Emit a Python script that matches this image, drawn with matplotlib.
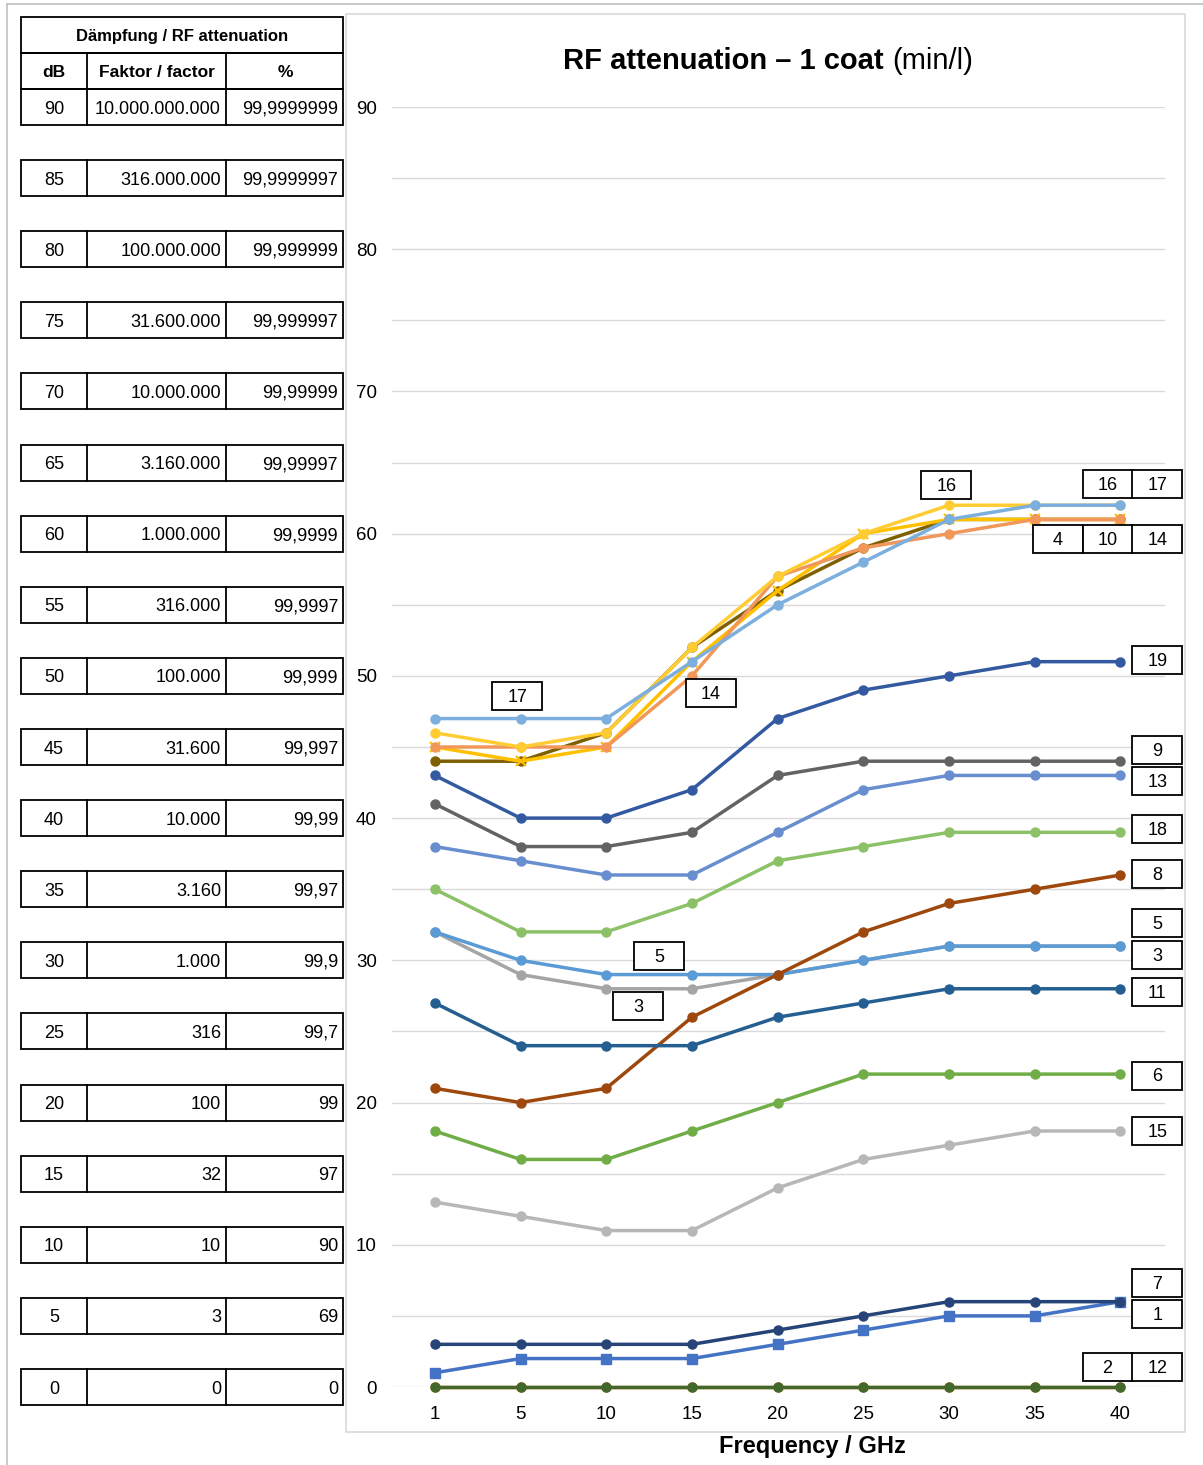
import numpy as np
import matplotlib
matplotlib.use("Agg")
import matplotlib.pyplot as plt
from matplotlib.patches import Rectangle

plt.rcParams['font.family'] = ['Liberation Sans', 'DejaVu Sans']

# --- data ---
freqs = ["1", "5", "10", "15", "20", "25", "30", "35", "40"]

s1 = [1, 2, 2, 2, 3, 4, 5, 5, 6]
s2 = [0, 0, 0, 0, 0, 0, 0, 0, 0]
s3 = [32, 29, 28, 28, 29, 30, 31, 31, 31]
s4 = [44, 44, 46, 52, 56, 59, 61, 61, 61]
s5 = [32, 30, 29, 29, 29, 30, 31, 31, 31]
s6 = [18, 16, 16, 18, 20, 22, 22, 22, 22]
s7 = [3, 3, 3, 3, 4, 5, 6, 6, 6]
s8 = [21, 20, 21, 26, 29, 32, 34, 35, 36]
s9 = [41, 38, 38, 39, 43, 44, 44, 44, 44]
s10 = [45, 44, 45, 51, 56, 60, 61, 61, 61]
s11 = [27, 24, 24, 24, 26, 27, 28, 28, 28]
s12 = [0, 0, 0, 0, 0, 0, 0, 0, 0]
s13 = [38, 37, 36, 36, 39, 42, 43, 43, 43]
s14 = [45, 45, 45, 50, 57, 59, 60, 61, 61]
s15 = [13, 12, 11, 11, 14, 16, 17, 18, 18]
s16 = [46, 45, 46, 52, 57, 60, 62, 62, 62]
s17 = [47, 47, 47, 51, 55, 58, 61, 62, 62]
s18 = [35, 32, 32, 34, 37, 38, 39, 39, 39]
s19 = [43, 40, 40, 42, 47, 49, 50, 51, 51]

series = [s1, s2, s3, s4, s5, s6, s7, s8, s9, s10,
          s11, s12, s13, s14, s15, s16, s17, s18, s19]
colors = ["#4472C4", "#ED7D31", "#A5A5A5", "#7F6000", "#5B9BD5", "#70AD47",
          "#264478", "#9E480E", "#636363", "#FFC000", "#255E91", "#43682B",
          "#698ED0", "#F1975A", "#B7B7B7", "#FFCD33", "#7CAFDD", "#8CC168",
          "#335AA1"]
markers = ["s", "o", "o", "o", "o", "o", "o", "o", "o", "x",
           "o", "o", "o", "o", "o", "o", "o", "o", "o"]

# label boxes: (text, x index, y value)
labels = [("17", 0.96, 48.6), ("14", 3.22, 48.8), ("16", 5.97, 63.4),
          ("16", 7.85, 63.5), ("17", 8.43, 63.5),
          ("4", 7.27, 59.6), ("10", 7.85, 59.6), ("14", 8.43, 59.6),
          ("19", 8.43, 51.1), ("9", 8.43, 44.8), ("13", 8.43, 42.6),
          ("18", 8.43, 39.2), ("8", 8.43, 36.1), ("5", 8.43, 32.6),
          ("3", 8.43, 30.4), ("11", 8.43, 27.8), ("6", 8.43, 21.9),
          ("15", 8.43, 18.0), ("7", 8.43, 7.3), ("1", 8.43, 5.1),
          ("2", 7.85, 1.4), ("12", 8.43, 1.4),
          ("5", 2.62, 30.3), ("3", 2.37, 26.8)]

# table
tab_db = [90, 85, 80, 75, 70, 65, 60, 55, 50, 45, 40, 35, 30, 25, 20, 15, 10, 5, 0]
tab_factor = ["10.000.000.000", "316.000.000", "100.000.000", "31.600.000",
              "10.000.000", "3.160.000", "1.000.000", "316.000", "100.000",
              "31.600", "10.000", "3.160", "1.000", "316", "100", "32", "10", "3", "0"]
tab_pct = ["99,9999999", "99,9999997", "99,999999", "99,999997", "99,99999",
           "99,99997", "99,9999", "99,9997", "99,999", "99,997", "99,99",
           "99,97", "99,9", "99,7", "99", "97", "90", "69", "0"]

W, H = 1203, 1465
fig = plt.figure(figsize=(W / 100, H / 100), dpi=100)

def fx(px):
    return px / W

def fy(py):
    return 1 - py / H

# frames
fig.add_artist(plt.Line2D([fx(7), fx(7)], [fy(4), 0], color="#c0c0c0", lw=1.2))
fig.add_artist(plt.Line2D([fx(7), 1], [fy(4), fy(4)], color="#c0c0c0", lw=1.2))
fig.add_artist(Rectangle((fx(346), fy(1432)), fx(1185 - 346), (1432 - 14) / H,
                         fill=False, edgecolor="#d9d9d9", lw=1.2))

y_top, y_bot = 107, 1387
ax = fig.add_axes([fx(392), fy(y_bot), fx(1165 - 392), (y_bot - y_top) / H])
x = np.arange(len(freqs))
for i, s in enumerate(series):
    ax.plot(x, s, color=colors[i], lw=2.5, marker=markers[i], markersize=6.5,
            markeredgewidth=1.6 if markers[i] == "x" else 1,
            clip_on=False, zorder=3 + i * 0.01)

ax.set_xlim(-0.5, 8.52)
ax.set_ylim(0, 90)
ax.set_yticks(range(0, 91, 5))
ax.set_yticklabels([str(v) if v % 10 == 0 else "" for v in range(0, 91, 5)])
ax.set_xticks(x)
ax.set_xticklabels(freqs)
ax.tick_params(length=0, labelsize=13.5)
ax.tick_params(axis="y", pad=11)
ax.tick_params(axis="x", pad=14)
ax.grid(axis="y", color="#d9d9d9", lw=1)
ax.set_axisbelow(True)
for sp in ax.spines.values():
    sp.set_visible(False)

bw, bh = 50 / 85.63, 28 / 14.22
for t, lx, ly in labels:
    ax.add_patch(Rectangle((lx - bw / 2, ly - bh / 2), bw, bh, facecolor="white",
                           edgecolor="black", lw=1.3, clip_on=False, zorder=10))
    ax.text(lx, ly - 0.1, t, ha="center", va="center", fontsize=13, zorder=11,
            clip_on=False)

# title and x label
t1 = fig.text(fx(563), fy(61), "RF attenuation \u2013 1 coat ", ha="left",
              va="center", fontsize=21, fontweight="bold")
fig.canvas.draw()
bb = t1.get_window_extent()
fig.text(bb.x1 / W, fy(61), "(min/l)", ha="left", va="center", fontsize=21)
fig.text(fx(812), fy(1447), "Frequency / GHz", ha="center", va="center",
         fontsize=17, fontweight="bold")

# table on the left, sharing the chart's vertical scale
axt = fig.add_axes([fx(21), fy(y_bot), fx(343 - 21), (y_bot - y_top) / H])
axt.set_xlim(21, 343)
axt.set_ylim(0, 90)
axt.axis("off")
rh = 18 / 14.222
dy = 2 / 14.222

def row_box(yc, dividers):
    axt.add_patch(Rectangle((21, yc - rh), 322, 2 * rh, fill=False,
                            edgecolor="black", lw=1.3, clip_on=False))
    for d in dividers:
        axt.plot([d, d], [yc - rh, yc + rh], color="black", lw=1.3, clip_on=False)

for db, fac, pct in zip(tab_db, tab_factor, tab_pct):
    row_box(db, [87, 226])
    axt.text(54, db - dy, str(db), ha="center", va="center", fontsize=13)
    axt.text(221, db - dy, fac, ha="right", va="center", fontsize=13)
    axt.text(338, db - dy, pct, ha="right", va="center", fontsize=13)

hy = 90 + 2 * rh
row_box(hy, [87, 226])
axt.text(54, hy - dy, "dB", ha="center", va="center", fontsize=12.5, fontweight="bold")
axt.text(157, hy - dy, "Faktor / factor", ha="center", va="center", fontsize=12.5,
         fontweight="bold")
axt.text(285, hy - dy, "%", ha="center", va="center", fontsize=12.5, fontweight="bold")
hy2 = 90 + 4 * rh
row_box(hy2, [])
axt.text(182, hy2 - dy, "D\u00e4mpfung / RF attenuation", ha="center", va="center",
         fontsize=12, fontweight="bold")

fig.savefig("out.png", dpi=100)
